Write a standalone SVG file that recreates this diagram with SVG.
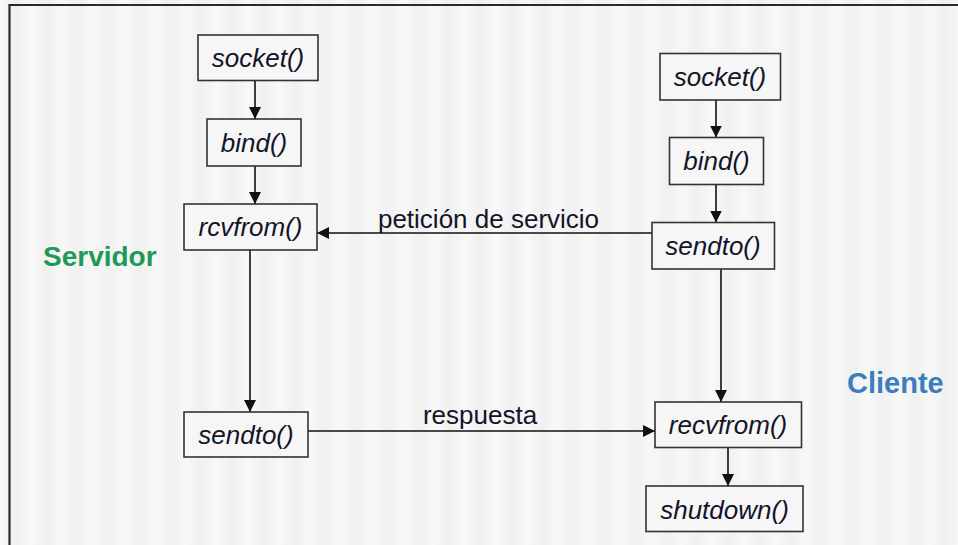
<svg xmlns="http://www.w3.org/2000/svg" width="958" height="545" viewBox="0 0 958 545">
<defs>
<linearGradient id="stripe" x1="0" y1="0" x2="1" y2="0">
<stop offset="0" stop-color="#f8f8f8"/>
<stop offset="0.5" stop-color="#f0f0f0"/>
<stop offset="1" stop-color="#f8f8f8"/>
</linearGradient>
<pattern id="bg" x="0" y="0" width="31" height="545" patternUnits="userSpaceOnUse">
<rect width="31" height="545" fill="url(#stripe)"/>
</pattern>
<marker id="ah" markerUnits="userSpaceOnUse" markerWidth="12" markerHeight="12" refX="12" refY="6" orient="auto">
<path d="M0,0 L12,6 L0,12 Z" fill="#111"/>
</marker>
</defs>
<style>
.box{fill:#f6f6f6;stroke:#333;stroke-width:1.6}
.lbl{font-family:"Liberation Sans",Arial,sans-serif;font-size:26px;font-style:italic;fill:#141428;text-anchor:middle}
.msg{font-family:"Liberation Sans",Arial,sans-serif;font-size:26px;fill:#141428;text-anchor:middle}
.conn{stroke:#111;stroke-width:1.6;fill:none;marker-end:url(#ah)}
</style>
<rect width="958" height="545" fill="url(#bg)"/>
<path d="M958,5 H9.5 V545" fill="none" stroke="#2a2a2a" stroke-width="2.2"/>

<g id="connectors">
<line class="conn" x1="255" y1="80.5" x2="255" y2="119"/>
<line class="conn" x1="255" y1="166" x2="255" y2="204"/>
<line class="conn" x1="250" y1="250" x2="250" y2="412"/>
<line class="conn" x1="308" y1="431" x2="655" y2="431"/>
<line class="conn" x1="716" y1="100" x2="716" y2="137.5"/>
<line class="conn" x1="716" y1="184.5" x2="716" y2="222.5"/>
<line class="conn" x1="652" y1="233" x2="317" y2="233"/>
<line class="conn" x1="721" y1="269" x2="721" y2="402"/>
<line class="conn" x1="728" y1="447.5" x2="728" y2="486"/>
<text class="msg" x="488.5" y="227.5">petición de servicio</text>
<text class="msg" x="480" y="424">respuesta</text>
</g>

<g id="s-socket"><rect class="box" x="198" y="35" width="120" height="45.5"/><text class="lbl" x="258" y="67">socket()</text></g>
<g id="s-bind"><rect class="box" x="207" y="119" width="94" height="47"/><text class="lbl" x="254" y="151.5">bind()</text></g>
<g id="s-rcvfrom"><rect class="box" x="184" y="204" width="133" height="46"/><text class="lbl" x="250.5" y="236">rcvfrom()</text></g>
<g id="s-sendto"><rect class="box" x="184" y="412" width="124" height="45"/><text class="lbl" x="246" y="444">sendto()</text></g>

<g id="c-socket"><rect class="box" x="660" y="53.5" width="120.5" height="46.5"/><text class="lbl" x="720" y="85.5">socket()</text></g>
<g id="c-bind"><rect class="box" x="669.5" y="137.5" width="94" height="47"/><text class="lbl" x="716.5" y="170">bind()</text></g>
<g id="c-sendto"><rect class="box" x="652" y="222.5" width="122.5" height="46.5"/><text class="lbl" x="713" y="255">sendto()</text></g>
<g id="c-recvfrom"><rect class="box" x="655" y="402" width="146.5" height="45.5"/><text class="lbl" x="728" y="434">recvfrom()</text></g>
<g id="c-shutdown"><rect class="box" x="646" y="486" width="157" height="45.5"/><text class="lbl" x="724.5" y="518.5">shutdown()</text></g>

<g id="label-servidor"><text x="43" y="266" font-family="Liberation Sans,Arial,sans-serif" font-size="28" font-weight="bold" fill="#1e9a58">Servidor</text></g>
<g id="label-cliente"><text x="847" y="393" font-family="Liberation Sans,Arial,sans-serif" font-size="29" font-weight="bold" fill="#3a7ec0">Cliente</text></g>
</svg>
